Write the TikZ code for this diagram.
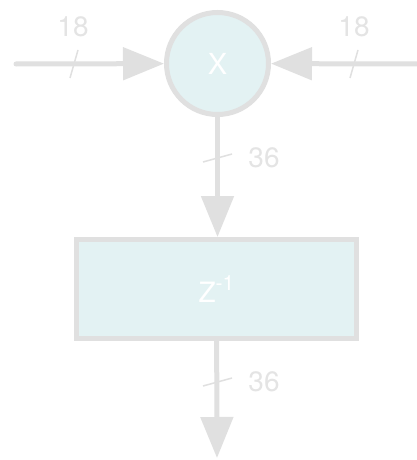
\documentclass[tikz,border=0pt]{standalone}
\usepackage{fontspec}
\setmainfont{TeX Gyre Heros}
\usetikzlibrary{arrows.meta}
\definecolor{linegray}{HTML}{E0E0E0}
\definecolor{textgray}{HTML}{E4E4E4}
\definecolor{nodefill}{HTML}{E3F2F3}
\begin{document}
\begin{tikzpicture}[x=1pt,y=-1pt,
  conn/.style={draw=linegray, line width=5pt, line cap=round,
    -{Triangle[length=41pt,width=32pt,fill=linegray]}},
  opnode/.style={circle, draw=linegray, line width=5pt, fill=nodefill,
    minimum size=102pt, inner sep=0pt, text=white,
    font=\fontsize{29}{34}\selectfont},
  boxnode/.style={rectangle, draw=linegray, line width=5pt, fill=nodefill,
    minimum width=280pt, minimum height=99pt, inner sep=0pt, text=white,
    font=\fontsize{28}{34}\selectfont},
  buslabel/.style={text=textgray, font=\fontsize{28}{34}\selectfont, inner sep=0pt},
  slashmark/.style={draw=linegray, line width=1.5pt}
]
\fill[white] (0,0) rectangle (416,460);
\useasboundingbox (0,0) rectangle (416,460);

\node[opnode] (mul) at (217.5,63.5) {X};
\node[boxnode] (delay) at (216.5,289) {Z\raisebox{12pt}{\fontsize{21}{21}\selectfont -1}};

\coordinate (inL) at (16,64);
\coordinate (inR) at (420,64);
\coordinate (outB) at (217,458);

\draw[conn] (inL) -- (mul);
\draw[conn] (inR) -- (mul);
\draw[conn] (mul) -- (mul |- delay.north);
\draw[conn] (delay) -- (outB);

% bus width marks
\draw[slashmark] (70,78) -- (78,50);
\draw[slashmark] (350,78) -- (358,50);
\draw[slashmark] (203,162) -- (232,154);
\draw[slashmark] (203,386) -- (232,378);

\node[buslabel] (l1) at (73,27) {18};
\node[buslabel] (l2) at (354,27) {18};
\node[buslabel] (l3) at (264,158) {36};
\node[buslabel] (l4) at (264,382) {36};
\end{tikzpicture}
\end{document}
